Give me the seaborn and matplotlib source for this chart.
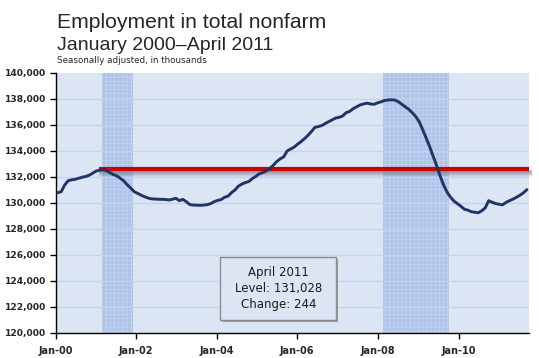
import matplotlib
matplotlib.use("Agg")
import matplotlib.pyplot as plt
from matplotlib.patches import Rectangle
import numpy as np
import pandas as pd
import seaborn as sns

# Total nonfarm employment, seasonally adjusted, thousands (Jan 2000 - Apr 2011)
nivel_2000 = [130790, 130870, 131385, 131715, 131780, 131820, 131900, 131980, 132040, 132130, 132280, 132450]
nivel_2001 = [132530, 132560, 132490, 132330, 132190, 132080, 131900, 131700, 131400, 131150, 130870, 130740]
nivel_2002 = [130600, 130480, 130380, 130320, 130300, 130290, 130280, 130270, 130230, 130290, 130360, 130180]
nivel_2003 = [130280, 130100, 129880, 129840, 129830, 129820, 129840, 129870, 129950, 130100, 130200, 130260]
nivel_2004 = [130440, 130530, 130800, 131000, 131300, 131460, 131570, 131660, 131880, 132050, 132250, 132340]
nivel_2005 = [132460, 132660, 132900, 133180, 133400, 133540, 134000, 134150, 134300, 134520, 134720, 134950]
nivel_2006 = [135200, 135500, 135820, 135880, 135960, 136120, 136260, 136400, 136540, 136590, 136700, 136950]
nivel_2007 = [137050, 137250, 137400, 137540, 137620, 137680, 137620, 137590, 137700, 137780, 137880, 137920]
nivel_2008 = [137940, 137920, 137790, 137600, 137400, 137200, 136950, 136650, 136250, 135650, 135000, 134350]
nivel_2009 = [133600, 132900, 132100, 131400, 130850, 130450, 130150, 129950, 129750, 129520, 129450, 129330]
nivel_2010 = [129290, 129250, 129400, 129620, 130180, 130050, 129960, 129900, 129860, 130050, 130180, 130300]
nivel_2011 = [130440, 130600, 130784, 131028]

empleo = (nivel_2000 + nivel_2001 + nivel_2002 + nivel_2003 + nivel_2004 + nivel_2005
          + nivel_2006 + nivel_2007 + nivel_2008 + nivel_2009 + nivel_2010 + nivel_2011)
meses = list(range(len(empleo)))

# recession shading (months since Jan 2000)
recesiones = [(12.8, 21.7), (93.6, 112.6)]
# reference line: pre-recession level
nivel_ref = 132600
inicio_ref = 11.9

etiquetas_x = ["Jan-00", "Jan-02", "Jan-04", "Jan-06", "Jan-08", "Jan-10"]
pos_x = [-0.5, 22.6, 45.9, 68.9, 92.2, 115.5]
ticks_y = list(range(120000, 140001, 2000))

texto_caja = ["April 2011", "Level: 131,028", "Change: 244"]

df = pd.DataFrame({"mes": meses, "empleo": empleo})

sns.set_theme(style="ticks")
plt.rcParams["font.family"] = ["DejaVu Sans"]
plt.rcParams["hatch.color"] = "#c9d7f0"
plt.rcParams["hatch.linewidth"] = 0.4

fig = plt.figure(figsize=(5.39, 3.58), dpi=100)
ax = fig.add_axes([56 / 539, 25 / 358, 473 / 539, 260 / 358])
ax.set_facecolor("#dce5f4")

for ini, fin in recesiones:
    ax.axvspan(ini, fin, facecolor="#aec4e9", edgecolor="#c9d7f0", hatch="++++",
               lw=0, zorder=0.5)

for v in ticks_y[1:-1]:
    ax.axhline(v, color="#c3d3ee", lw=1, zorder=0.8)

# soft shadow under the red line
for k, a in enumerate([0.45, 0.40, 0.33, 0.25, 0.17, 0.09]):
    ax.hlines(nivel_ref - 150 - k * 75, inicio_ref, 136.5, color="#606068", lw=1.1,
              alpha=a, zorder=1, clip_on=False)
ax.hlines(nivel_ref, inicio_ref, 135.6, color="#cc0000", lw=3.0, zorder=2)

sns.lineplot(data=df, x="mes", y="empleo", ax=ax, color="#1f3566", lw=2.1, zorder=3)

ax.set_xlim(-0.5, 135.6)
ax.set_ylim(120000, 140000)
ax.set_xticks(pos_x)
ax.set_xticklabels(etiquetas_x, fontsize=7, fontweight="bold")
ax.set_yticks(ticks_y)
ax.set_yticklabels([f"{v:,}" for v in ticks_y], fontsize=6.6, fontweight="bold")
ax.tick_params(axis="both", length=4, width=1, color="black", pad=3)
ax.tick_params(axis="x", pad=5)
ax.set_xlabel("")
ax.set_ylabel("")
for lado in ["top", "right"]:
    ax.spines[lado].set_visible(False)
for lado in ["left", "bottom"]:
    ax.spines[lado].set_color("black")
    ax.spines[lado].set_linewidth(1)

# info box with a thin shadow
ax.add_patch(Rectangle((0.351, 0.044), 0.246, 0.242, transform=ax.transAxes,
                       facecolor="#9a9a9a", edgecolor="none", zorder=4))
ax.add_patch(Rectangle((0.347, 0.050), 0.246, 0.242, transform=ax.transAxes,
                       facecolor="#dce5f4", edgecolor="#8c8c8c", lw=1, zorder=5))
for i, linea in enumerate(texto_caja):
    ax.text(0.470, 0.232 - i * 0.062, linea, transform=ax.transAxes, ha="center",
            va="center", fontsize=8.5, color="#1a1a1a", zorder=6)

fig.text(57 / 539, 1 - 28 / 358, "Employment in total nonfarm", fontsize=15.2,
         family="Liberation Sans", va="baseline", ha="left")
fig.text(57 / 539, 1 - 50 / 358, "January 2000\u2013April 2011", fontsize=14,
         family="Liberation Sans", va="baseline", ha="left")
fig.text(57 / 539, 1 - 63 / 358, "Seasonally adjusted, in thousands", fontsize=6.3,
         va="baseline", ha="left")

fig.savefig("out.png", dpi=100)
